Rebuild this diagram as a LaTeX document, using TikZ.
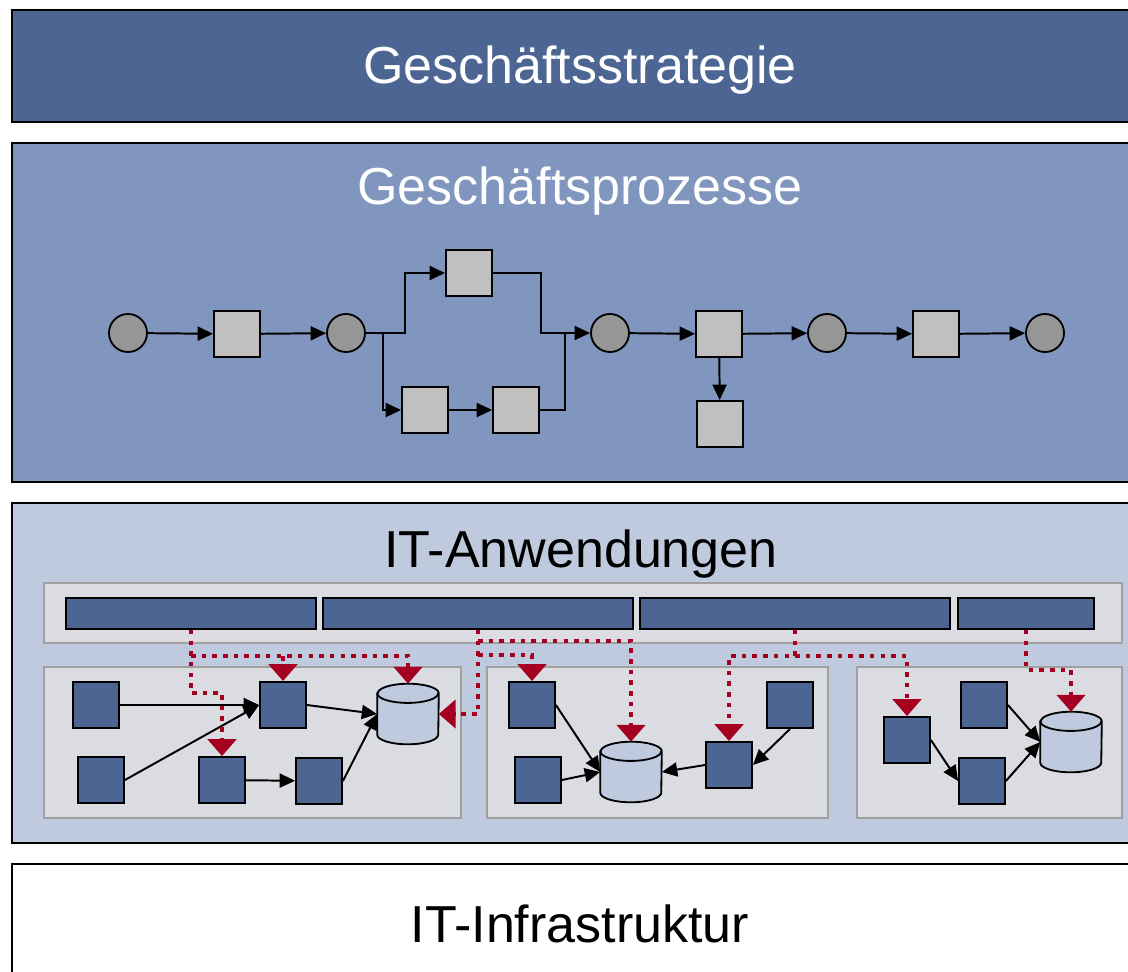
\documentclass[tikz,border=0pt]{standalone}
\usepackage{fontspec}
\setmainfont{Liberation Sans}
\definecolor{stratblue}{RGB}{77, 101, 146}
\definecolor{procblue}{RGB}{128, 150, 190}
\definecolor{anwblue}{RGB}{191, 202, 223}
\definecolor{boxgray}{RGB}{219, 220, 225}
\definecolor{edgegray}{RGB}{160, 160, 160}
\definecolor{evtgray}{RGB}{150, 150, 150}
\definecolor{taskgray}{RGB}{192, 192, 192}
\definecolor{linkred}{RGB}{165, 0, 33}
\usetikzlibrary{arrows.meta, positioning, calc}

\tikzset{
  layer/.style={draw=black, line width=1.4pt},
  holder/.style={draw=edgegray, fill=boxgray, line width=1.4pt},
  title/.style={font=\fontsize{37}{44}\selectfont, anchor=base, inner sep=0pt},
  evt/.style={circle, draw, fill=evtgray, line width=1.3pt, minimum size=0.95cm, inner sep=0pt},
  task/.style={rectangle, draw, fill=taskgray, line width=1.3pt, minimum size=1.15cm, inner sep=0pt},
  app/.style={rectangle, draw, fill=stratblue, line width=1.3pt, minimum size=1.15cm, inner sep=0pt},
  bar/.style={rectangle, draw, fill=stratblue, line width=1.3pt, minimum height=0.775cm, inner sep=0pt},
  db/.style={rectangle, minimum width=1.525cm, minimum height=1.5cm, inner sep=0pt},
  wire/.style={line width=1.4pt},
  flow/.style={wire, -{Triangle[length=11pt, width=10pt]}},
  link/.style={draw=linkred, line width=3.2pt, dash pattern=on 3.2pt off 4.4pt,
    -{Triangle[length=12pt, width=20pt, fill=linkred]}}
}

% data store drawn round a named node
\newcommand{\drum}[1]{%
  \draw[line width=1.3pt, fill=anwblue]
    ([yshift=-0.24cm]#1.north west) -- ([yshift=0.24cm]#1.south west)
    arc[start angle=180, end angle=360, x radius=0.7625cm, y radius=0.24cm]
    -- ([yshift=-0.24cm]#1.north east)
    arc[start angle=0, end angle=180, x radius=0.7625cm, y radius=0.24cm] -- cycle;
  \draw[line width=1.3pt] ([yshift=-0.24cm]#1.north west)
    arc[start angle=180, end angle=360, x radius=0.7625cm, y radius=0.24cm];
}

\begin{document}
\begin{tikzpicture}[x=0.025cm, y=-0.025cm]
  \useasboundingbox (0,0) rectangle (1128,971);

  % Layers
  \draw[layer, fill=stratblue] (12,10) rectangle (1140,122);
  \draw[layer, fill=procblue] (12,143) rectangle (1140,482);
  \draw[layer, fill=anwblue] (12,503) rectangle (1140,843);
  \draw[layer, fill=white] (12,864) rectangle (1140,990);

  \node[title, text=white] (tstrat) at (580,84) {Geschäftsstrategie};
  \node[title, text=white] (tproz) at (580,204) {Geschäftsprozesse};
  \node[title] (tanw) at (581,567) {IT-Anwendungen};
  \node[title] (tinfra) at (580,942) {IT-Infrastruktur};

  % Process chain
  \node[evt] (e1) at (128,333) {};
  \node[task] (t1) at (237,334) {};
  \node[evt] (e2) at (346,333) {};
  \node[task] (t2) at (469,273) {};
  \node[task] (t3) at (425,410) {};
  \node[task] (t4) at (516,410) {};
  \node[evt] (e3) at (610,333) {};
  \node[task] (t5) at (719,334) {};
  \node[evt] (e4) at (827,333) {};
  \node[task] (t6) at (936,334) {};
  \node[evt] (e5) at (1045,333) {};
  \node[task] (t7) at (720,424) {};

  \coordinate (s1) at (405,333);
  \coordinate (s2) at (383,333);
  \coordinate (j1) at (541,333);
  \coordinate (j2) at (565,333);

  \draw[flow] (e1) -- (t1);
  \draw[flow] (t1) -- (e2);
  \draw[flow] (e2.east) -- (s1) |- (t2.west);
  \draw[flow] (s2) |- (t3.west);
  \draw[flow] (t3) -- (t4);
  \draw[flow] (t2.east) -| (j1) -- (e3.west);
  \draw[wire] (t4.east) -| (j2);
  \draw[flow] (e3) -- (t5);
  \draw[flow] (t5) -- (e4);
  \draw[flow] (e4) -- (t6);
  \draw[flow] (t6) -- (e5);
  \draw[flow] (t5) -- (t7);

  % Applications
  \draw[holder] (44,583) rectangle (1122,643);
  \draw[holder] (44,667) rectangle (461,818);
  \draw[holder] (487,667) rectangle (828,818);
  \draw[holder] (857,667) rectangle (1122,818);

  \node[bar, minimum width=6.25cm] (bar1) at (191,613.5) {};
  \node[bar, minimum width=7.75cm] (bar2) at (478,613.5) {};
  \node[bar, minimum width=7.75cm] (bar3) at (795,613.5) {};
  \node[bar, minimum width=3.4cm] (bar4) at (1026,613.5) {};

  \node[app] (a1) at (96,705) {};
  \node[app] (a2) at (101,780) {};
  \node[app] (a3) at (283,705) {};
  \node[app] (a4) at (222,780) {};
  \node[app] (a5) at (319,781) {};
  \node[db] (dbA) at (408,714) {};
  \drum{dbA}

  \node[app] (b1) at (532,705) {};
  \node[app] (b2) at (538,780) {};
  \node[db] (dbB) at (631,772) {};
  \drum{dbB}
  \node[app] (b3) at (729,765) {};
  \node[app] (b4) at (790,705) {};

  \node[app] (c1) at (907,740) {};
  \node[app] (c2) at (984,705) {};
  \node[app] (c3) at (982,781) {};
  \node[db] (dbC) at (1071,742) {};
  \drum{dbC}

  \draw[flow] (a1) -- (a3.west);
  \draw[flow] (a2.east) -- (a3.west);
  \draw[flow] (a3.east) -- (dbA.west);
  \draw[flow] (a4) -- (a5);
  \draw[flow] (a5.east) -- (dbA.west);

  \draw[flow] (b1.east) -- (dbB.west);
  \draw[flow] (b2.east) -- (dbB.west);
  \draw[flow] (b3.west) -- (dbB.east);
  \draw[flow] (b4.south) -- (b3.east);

  \draw[flow] (c1.east) -- (c3.west);
  \draw[flow] (c2.east) -- (dbC.west);
  \draw[flow] (c3.east) -- (dbC.west);

  % Red links from the bars
  \coordinate (k1) at (191,693);
  \coordinate (k2) at (191,656);
  \coordinate (k3) at (478,641);
  \coordinate (k4) at (478,655);
  \coordinate (k5) at (795,656);
  \coordinate (k6) at (1026,670);

  \draw[link] (bar1.south) -- (k1) -| (a4.north);
  \draw[link] (k2) -| (dbA.north);
  \draw[link] (a3.north |- k2) -- (a3.north);
  \draw[link] (bar2.south) |- (dbA.east);
  \draw[link] (k3) -| (dbB.north);
  \draw[link] (k4) -| (b1.north);
  \draw[link] (bar3.south) -- (k5) -| (b3.north);
  \draw[link] (k5) -| (c1.north);
  \draw[link] (bar4.south) -- (k6) -| (dbC.north);
\end{tikzpicture}
\end{document}
